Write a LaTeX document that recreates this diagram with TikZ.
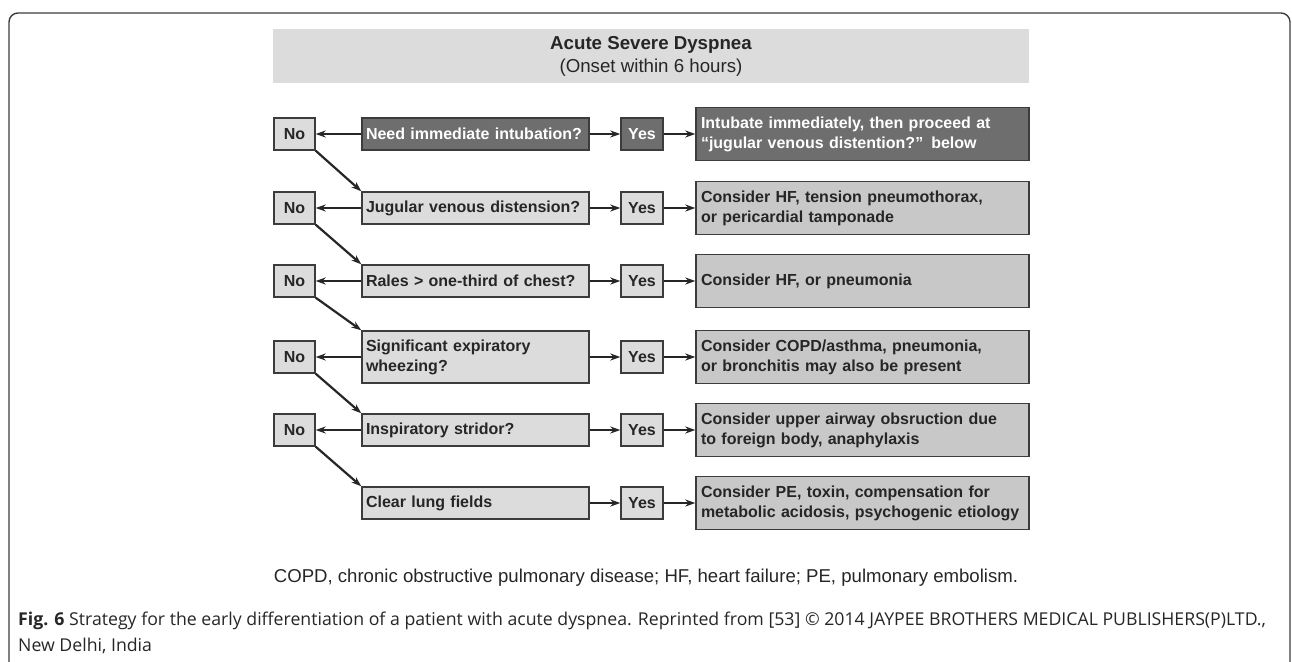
\documentclass[tikz,border=0pt]{standalone}
\usepackage{fontspec}
\setmainfont{Liberation Sans}
\newfontfamily\capfont{Open Sans}
\usetikzlibrary{arrows.meta}
\definecolor{boxlight}{HTML}{DCDCDC}
\definecolor{boxmid}{HTML}{C8C8C8}
\definecolor{boxdark}{HTML}{6E6E6E}
\definecolor{edge}{HTML}{3C3C3C}
\definecolor{ink}{HTML}{262626}
\begin{document}
\begin{tikzpicture}[x=1pt,y=-1pt,font=\fontsize{16}{20}\selectfont\bfseries,
  box/.style={draw=edge,line width=1.4pt,fill=boxlight,text=ink,inner sep=0pt,minimum height=32pt},
  ans/.style={box,minimum width=41pt},
  ask/.style={box,minimum width=227pt,text width=219pt,align=left},
  res/.style={box,fill=boxmid,minimum width=333pt,text width=323pt,align=left,minimum height=53pt},
  dark/.style={fill=boxdark,text=white},
  arr/.style={draw=ink,line width=2.2pt,-{Stealth[length=10pt,width=7pt]}}]
\useasboundingbox (0,0) rectangle (1292,661);
\draw[edge,line width=1.4pt,rounded corners=9pt] (9,670)--(9,13)--(1290,13)--(1290,670);
% title
\node[fill=boxlight,minimum width=756pt,minimum height=54pt,inner sep=0pt,align=center,text=ink,font=\fontsize{18.7}{23}\selectfont] (title) at (651,56)
  {\bfseries Acute Severe Dyspnea\\(Onset within 6 hours)};
% first row
\node[ask,dark] (q1) at (475.5,134) {Need immediate intubation?};
\node[ans,dark,minimum width=42pt] (yes1) at (642,134) {Yes};
\node[res,dark] (out1) at (862.5,134) {Intubate immediately, then proceed at\\``jugular venous distention?'' below};
% other rows
\foreach \i/\y/\h/\q/\r in {2/208/32/{Jugular venous distension?}/{Consider HF, tension pneumothorax,\\or pericardial tamponade},
  3/281/32/{Rales > one-third of chest?}/{Consider HF, or pneumonia},
  4/357/52/{Significant expiratory\\wheezing?}/{Consider COPD/asthma, pneumonia,\\or bronchitis may also be present},
  5/430/32/{Inspiratory stridor?}/{Consider upper airway obsruction due\\to foreign body, anaphylaxis},
  6/503/32/{Clear lung fields}/{Consider PE, toxin, compensation for\\metabolic acidosis, psychogenic etiology}}{
  \node[ask,minimum height=\h pt] (q\i) at (475.5,\y) {\q};
  \node[ans,minimum width=42pt] (yes\i) at (642,\y) {Yes};
  \node[res] (out\i) at (862.5,\y) {\r};
}
\foreach \i/\y in {1/134,2/208,3/281,4/357,5/430}{\node[ans] (no\i) at (294.5,\y) {No};}
% connectors
\foreach \i in {1,...,5}{\draw[arr] (q\i.west)--(no\i.east);}
\foreach \i in {1,...,6}{\draw[arr] (q\i.east)--(yes\i.west);\draw[arr] (yes\i.east)--(out\i.west);}
\foreach \i [evaluate=\i as \j using int(\i+1)] in {1,...,5}{\draw[arr] (no\i.south east)--(q\j.north west);}
% notes
\node[font=\fontsize{18.6}{22}\selectfont,text=ink] (abbr) at (646,578)
  {COPD, chronic obstructive pulmonary disease; HF, heart failure; PE, pulmonary embolism.};
\node[anchor=base west,inner sep=0pt,font=\capfont\fontsize{17.7}{22}\selectfont,text=ink] (cap1) at (18,625)
  {\textbf{Fig. 6} Strategy for the early differentiation of a patient with acute dyspnea. Reprinted from [53] © 2014 JAYPEE BROTHERS MEDICAL PUBLISHERS(P)LTD.,};
\node[anchor=base west,inner sep=0pt,font=\capfont\fontsize{17.7}{22}\selectfont,text=ink] (cap2) at (18,651) {New Delhi, India};
\end{tikzpicture}
\end{document}
